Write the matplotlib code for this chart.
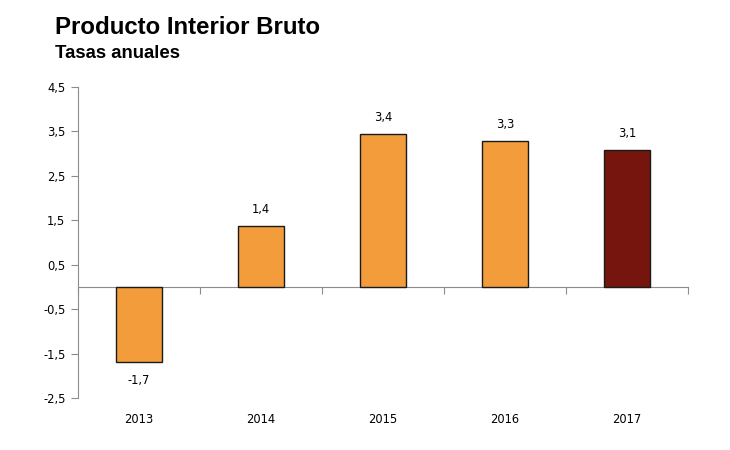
import matplotlib
matplotlib.use("Agg")
import matplotlib.pyplot as plt

years = ["2013", "2014", "2015", "2016", "2017"]
values = [-1.7, 1.37, 3.44, 3.28, 3.09]
labels = ["-1,7", "1,4", "3,4", "3,3", "3,1"]
colors = ["#F39C3B", "#F39C3B", "#F39C3B", "#F39C3B", "#76150D"]
yticks = [-2.5, -1.5, -0.5, 0.5, 1.5, 2.5, 3.5, 4.5]

plt.rcParams['font.family'] = ['DejaVu Sans']
fig = plt.figure(figsize=(7.3, 4.5), dpi=100)
ax = fig.add_axes([78/730, 1-398/450, 610/730, 311/450])

x = list(range(len(years)))
ax.bar(x, values, width=0.385, color=colors, edgecolor="#1a1a1a", linewidth=1.0, zorder=3)
ax.set_xlim(-0.5, 4.5)
ax.set_ylim(-2.5, 4.5)
ax.set_yticks(yticks)
ax.set_yticklabels([f"{v:.1f}".replace(".", ",") for v in yticks], fontsize=8.3)
ax.set_xticks([i - 0.5 for i in range(len(years) + 1)])
ax.set_xticklabels([])
ax.tick_params(axis='x', direction='out', length=5, color="#8c8c8c")
ax.tick_params(axis='y', direction='out', length=5, color="#8c8c8c", pad=4)
for s in ['top', 'right']:
    ax.spines[s].set_visible(False)
ax.spines['bottom'].set_position(('data', 0))
ax.spines['bottom'].set_color("#8c8c8c")
ax.spines['left'].set_color("#8c8c8c")

for i, (v, lab) in enumerate(zip(values, labels)):
    if v >= 0:
        ax.annotate(lab, (i, v), xytext=(0, 7), textcoords='offset points', ha='center', va='bottom', fontsize=8.3)
    else:
        ax.annotate(lab, (i, v), xytext=(0, -8), textcoords='offset points', ha='center', va='top', fontsize=8.3)

for i, y in enumerate(years):
    ax.text(i, -0.07, y, transform=ax.get_xaxis_transform(), ha='center', va='center', fontsize=8.3)

fig.text(55/730, 1-28/450, "Producto Interior Bruto", fontsize=17.3, fontweight='bold',
         family='Liberation Sans', va='center', ha='left')
fig.text(55/730, 1-53/450, "Tasas anuales", fontsize=13.4, fontweight='bold',
         family='Liberation Sans', va='center', ha='left')

fig.savefig("out.png", dpi=100)
